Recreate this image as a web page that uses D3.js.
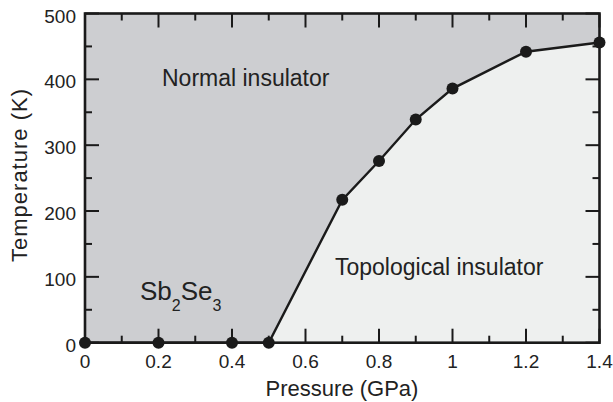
<!DOCTYPE html>
<html>
<head>
<meta charset="utf-8">
<script src="https://cdn.jsdelivr.net/npm/d3@7/dist/d3.min.js"></script>
<style>
  html, body { margin: 0; padding: 0; background: #fff; }
  svg text { font-family: "Liberation Sans", Arial, Helvetica, sans-serif; fill: #222; }
</style>
</head>
<body>
<svg id="chart"></svg>
<script>
var width = 613; // window width
var height = 402; // window height

// Phase boundary of Sb2Se3
var pressure = [0, 0.2, 0.4, 0.5, 0.7, 0.8, 0.9, 1.0, 1.2, 1.4];
var temperature = [0, 0, 0, 0, 217, 276, 339, 386, 442, 456];

// Tick values
var xMajor = [0, 0.2, 0.4, 0.6, 0.8, 1, 1.2, 1.4];
var xMinor = [0.1, 0.3, 0.5, 0.7, 0.9, 1.1, 1.3];
var yMajor = [0, 100, 200, 300, 400, 500];
var yMinor = [50, 150, 250, 350, 450];

// Plot box ("top" is reserved on window, so use a margin object)
var box = { left: 85, right: 599.5, top: 13.5, bottom: 342.7 };

var x = d3.scaleLinear().domain([0, 1.4]).range([box.left, box.right]);
var y = d3.scaleLinear().domain([0, 500]).range([box.bottom, box.top]);

var svg = d3.select("#chart")
    .attr("width", width)
    .attr("height", height);

var points = pressure.map(function (p, i) { return { p: p, t: temperature[i] }; });
var line = d3.line().x(function (d) { return x(d.p); }).y(function (d) { return y(d.t); });

// Normal insulator region (whole plot)
svg.append("rect")
    .attr("x", box.left).attr("y", box.top)
    .attr("width", box.right - box.left).attr("height", box.bottom - box.top)
    .attr("fill", "#cdced1");

// Topological insulator region (under the curve, from 0.5 GPa on)
var tiPoints = points.filter(function (d) { return d.p >= 0.5; });
tiPoints.push({ p: 1.4, t: 0 });
svg.append("path")
    .attr("d", line(tiPoints) + "Z")
    .attr("fill", "#eef0ef");

// Ticks, pointing inward on all four sides
function tickLines(vals, len, side) {
    var horiz = side == "b" || side == "t";
    svg.append("g").selectAll("line")
        .data(vals)
        .enter().append("line")
        .attr("x1", function (d) { return horiz ? x(d) : (side == "l" ? box.left : box.right); })
        .attr("x2", function (d) { return horiz ? x(d) : (side == "l" ? box.left + len : box.right - len); })
        .attr("y1", function (d) { return horiz ? (side == "b" ? box.bottom : box.top) : y(d); })
        .attr("y2", function (d) { return horiz ? (side == "b" ? box.bottom - len : box.top + len) : y(d); })
        .attr("stroke", "#1a1a1a")
        .attr("stroke-width", 2);
}
tickLines(xMajor, 14, "b");
tickLines(xMinor, 7, "b");
tickLines(xMajor, 14, "t");
tickLines(xMinor, 7, "t");
tickLines(yMajor, 14, "l");
tickLines(yMinor, 7, "l");
tickLines(yMajor, 14, "r");
tickLines(yMinor, 7, "r");

// Frame
svg.append("rect")
    .attr("x", box.left).attr("y", box.top)
    .attr("width", box.right - box.left).attr("height", box.bottom - box.top)
    .attr("fill", "none")
    .attr("stroke", "#1a1a1a")
    .attr("stroke-width", 2.6);

// Tick labels
svg.append("g").selectAll("text")
    .data(xMajor)
    .enter().append("text")
    .attr("x", function (d) { return x(d); })
    .attr("y", 368)
    .attr("text-anchor", "middle")
    .style("font-size", "19px")
    .text(function (d) { return d3.format("~g")(d); });

svg.append("g").selectAll("text")
    .data(yMajor)
    .enter().append("text")
    .attr("x", 76)
    .attr("y", function (d) { return y(d) + 9; })
    .attr("text-anchor", "end")
    .style("font-size", "19px")
    .text(function (d) { return d; });

// Axis titles
svg.append("text")
    .attr("x", 342).attr("y", 396)
    .attr("text-anchor", "middle")
    .style("font-size", "22px")
    .text("Pressure (GPa)");

svg.append("text")
    .attr("transform", "translate(27,175) rotate(-90)")
    .attr("text-anchor", "middle")
    .style("font-size", "22px")
    .style("letter-spacing", "1px")
    .text("Temperature (K)");

// Boundary line and points
svg.append("path")
    .datum(points)
    .attr("d", line)
    .attr("fill", "none")
    .attr("stroke", "#1a1a1a")
    .attr("stroke-width", 2.4);

svg.append("g").selectAll("circle")
    .data(points)
    .enter().append("circle")
    .attr("r", 6)
    .attr("cx", function (d) { return x(d.p); })
    .attr("cy", function (d) { return y(d.t); })
    .attr("fill", "#1a1a1a");

// Region labels
svg.append("text")
    .attr("x", 162).attr("y", 86)
    .style("font-size", "23px")
    .text("Normal insulator");

svg.append("text")
    .attr("x", 335).attr("y", 275)
    .style("font-size", "23px")
    .text("Topological insulator");

var sb = svg.append("text")
    .attr("x", 140).attr("y", 300)
    .style("font-size", "26px");
sb.append("tspan").text("Sb");
sb.append("tspan").attr("dy", 11).style("font-size", "16px").text("2");
sb.append("tspan").attr("dy", -11).text("Se");
sb.append("tspan").attr("dy", 11).style("font-size", "16px").text("3");
</script>
</body>
</html>
